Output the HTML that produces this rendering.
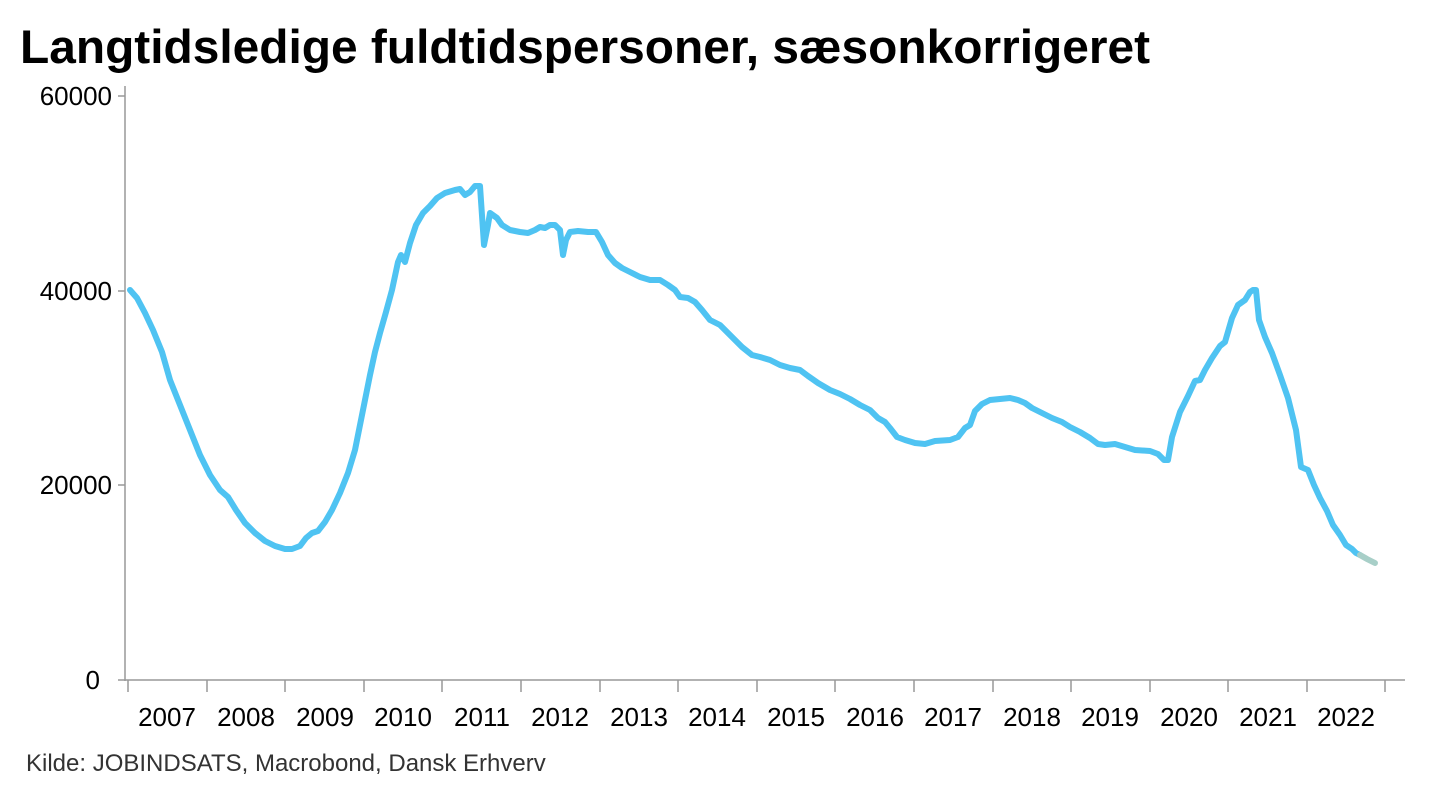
<!DOCTYPE html>
<html><head><meta charset="utf-8"><style>
body{margin:0;background:#fff;width:1440px;height:805px;overflow:hidden;font-family:"Liberation Sans",sans-serif}
</style></head><body>
<svg width="1440" height="805" xmlns="http://www.w3.org/2000/svg" font-family="Liberation Sans, sans-serif">
<text x="20" y="63" font-size="47.5" font-weight="bold" fill="#000" textLength="1130" lengthAdjust="spacingAndGlyphs">Langtidsledige fuldtidspersoner, sæsonkorrigeret</text>
<g stroke="#999" stroke-width="1.5">
<line x1="125" y1="86" x2="125" y2="681"/>
<line x1="125" y1="680" x2="1405" y2="680"/>
<line x1="118" y1="96" x2="125" y2="96"/>
<line x1="118" y1="291" x2="125" y2="291"/>
<line x1="118" y1="485" x2="125" y2="485"/>
<line x1="118" y1="680" x2="125" y2="680"/>
<line x1="128" y1="680" x2="128" y2="692"/><line x1="207" y1="680" x2="207" y2="692"/><line x1="285" y1="680" x2="285" y2="692"/><line x1="364" y1="680" x2="364" y2="692"/><line x1="442" y1="680" x2="442" y2="692"/><line x1="521" y1="680" x2="521" y2="692"/><line x1="600" y1="680" x2="600" y2="692"/><line x1="678" y1="680" x2="678" y2="692"/><line x1="757" y1="680" x2="757" y2="692"/><line x1="835" y1="680" x2="835" y2="692"/><line x1="914" y1="680" x2="914" y2="692"/><line x1="993" y1="680" x2="993" y2="692"/><line x1="1071" y1="680" x2="1071" y2="692"/><line x1="1150" y1="680" x2="1150" y2="692"/><line x1="1228" y1="680" x2="1228" y2="692"/><line x1="1307" y1="680" x2="1307" y2="692"/><line x1="1385" y1="680" x2="1385" y2="692"/>
</g>
<g font-size="26" fill="#000" text-anchor="end">
<text x="112" y="105">60000</text><text x="112" y="300">40000</text><text x="112" y="494">20000</text><text x="100" y="689">0</text>
</g>
<g font-size="26" fill="#000" text-anchor="middle">
<text x="167" y="726">2007</text><text x="246" y="726">2008</text><text x="325" y="726">2009</text><text x="403" y="726">2010</text><text x="482" y="726">2011</text><text x="560" y="726">2012</text><text x="639" y="726">2013</text><text x="717" y="726">2014</text><text x="796" y="726">2015</text><text x="875" y="726">2016</text><text x="953" y="726">2017</text><text x="1032" y="726">2018</text><text x="1110" y="726">2019</text><text x="1189" y="726">2020</text><text x="1268" y="726">2021</text><text x="1346" y="726">2022</text>
</g>
<polyline fill="none" stroke="#4fc3f2" stroke-width="6" stroke-linejoin="round" stroke-linecap="round" points="130,290 137,298 145,313 153,330 162,352 170,380 180,405 190,430 200,455 210,475 220,490 228,497 236,510 245,523 255,533 265,541 275,546 285,549 292,549 300,546 306,538 312,533 318,531 325,522 332,510 340,493 348,473 355,450 360,425 365,400 370,375 375,352 380,333 386,312 392,290 398,262 401,255 405,262 410,243 416,225 423,213 430,206 437,198 445,193 455,190 460,189 465,195 470,192 475,186 480,186 484,245 488,225 490,213 497,218 502,225 510,230 520,232 528,233 535,230 540,227 545,228 550,225 555,225 560,230 563,255 566,240 570,232 578,231 588,232 596,232 602,242 608,255 615,263 622,268 630,272 640,277 650,280 660,280 668,285 675,290 680,297 688,298 695,302 702,310 710,320 720,325 728,333 735,340 742,347 752,355 760,357 770,360 780,365 790,368 800,370 808,376 818,383 830,390 840,394 850,399 860,405 870,410 878,418 885,422 890,428 897,437 905,440 915,443 925,444 935,441 950,440 958,437 965,428 970,425 975,411 982,404 990,400 1000,399 1010,398 1018,400 1025,403 1032,408 1042,413 1052,418 1062,422 1070,427 1080,432 1090,438 1098,444 1105,445 1115,444 1125,447 1135,450 1150,451 1158,454 1164,460 1168,460 1172,437 1180,412 1188,396 1195,381 1200,380 1205,370 1212,358 1220,346 1225,342 1232,318 1238,305 1245,300 1250,292 1253,290 1256,290 1259,320 1265,337 1272,353 1280,375 1288,398 1296,430 1301,467 1308,470 1314,485 1320,498 1327,511 1333,525 1340,535 1346,545 1352,549 1356,553 1360,555"/>
<polyline fill="none" stroke="#a8cfc8" stroke-width="6" stroke-linecap="round" points="1360,555 1367,559 1375,563"/>
<text x="26" y="771" font-size="24" fill="#333">Kilde: JOBINDSATS, Macrobond, Dansk Erhverv</text>
</svg>
</body></html>
